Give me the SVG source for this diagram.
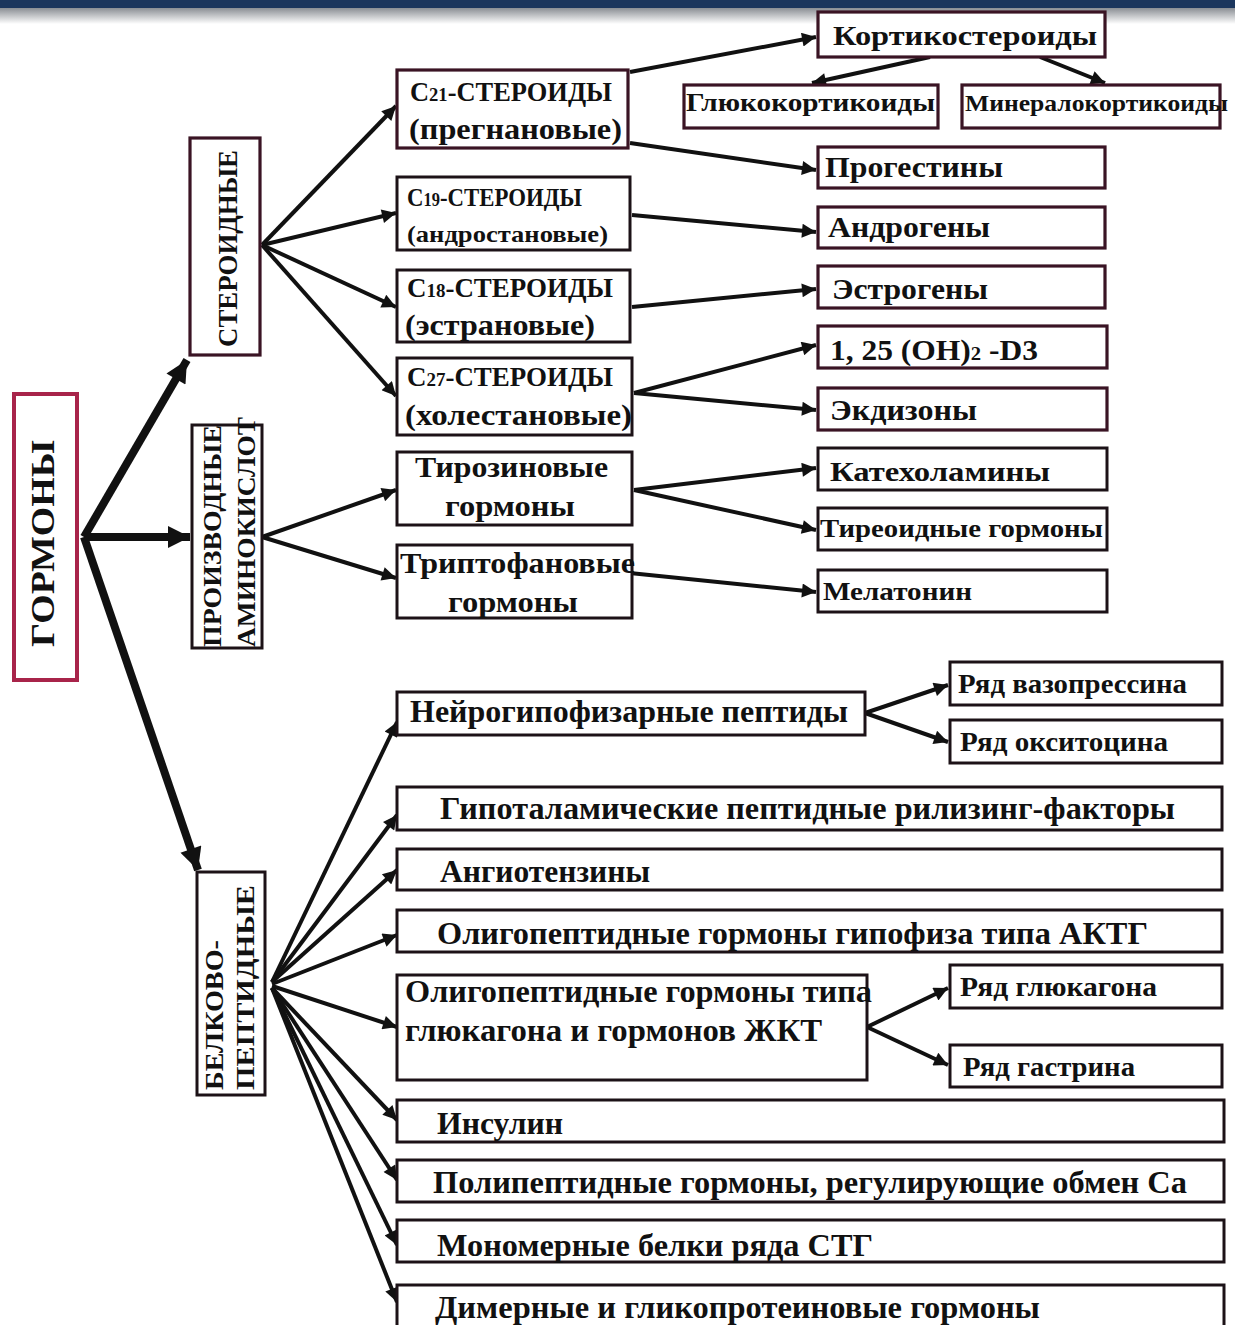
<svg xmlns="http://www.w3.org/2000/svg" width="1235" height="1325" viewBox="0 0 1235 1325">
<defs>
<linearGradient id="band" x1="0" y1="0" x2="0" y2="1">
<stop offset="0" stop-color="#8a8e94"/>
<stop offset="1" stop-color="#ffffff"/>
</linearGradient>
<marker id="ah" viewBox="0 0 10 10" refX="10" refY="5" markerWidth="20" markerHeight="14" markerUnits="userSpaceOnUse" orient="auto">
<path d="M0,0 L10,5 L0,10 z" fill="#111"/>
</marker>
<marker id="ahb" viewBox="0 0 10 10" refX="10" refY="5" markerWidth="28" markerHeight="22" markerUnits="userSpaceOnUse" orient="auto">
<path d="M0,0 L10,5 L0,10 z" fill="#111"/>
</marker>
<style>
.t{font-family:"Liberation Serif","Times New Roman",serif;font-weight:bold;fill:#111;}
.b{fill:#fff;stroke:#1c1217;stroke-width:3;}
.p{fill:#fff;stroke:#3a1424;stroke-width:3.2;}
.c{stroke:#111;stroke-width:4;fill:none;marker-end:url(#ah);}
.m{stroke:#111;stroke-width:8;fill:none;marker-end:url(#ahb);}
</style>
</defs>
<rect x="0" y="0" width="1235" height="1325" fill="#fff"/>
<rect x="0" y="8" width="1235" height="16" fill="url(#band)"/>
<rect x="0" y="0" width="1235" height="8" fill="#1b365d"/>

<g id="connectors">
<line class="m" x1="84" y1="537" x2="187" y2="360"/>
<line class="m" x1="84" y1="537" x2="190" y2="537"/>
<line class="m" x1="84" y1="537" x2="198" y2="870"/>
<line class="c" x1="262" y1="245" x2="396" y2="106"/>
<line class="c" x1="262" y1="245" x2="396" y2="213"/>
<line class="c" x1="262" y1="245" x2="396" y2="307"/>
<line class="c" x1="262" y1="245" x2="396" y2="396"/>
<line class="c" x1="262" y1="537" x2="396" y2="490"/>
<line class="c" x1="262" y1="537" x2="396" y2="578"/>
<line class="c" x1="272" y1="982" x2="397" y2="722"/>
<line class="c" x1="272" y1="982" x2="397" y2="815"/>
<line class="c" x1="272" y1="982" x2="397" y2="870"/>
<line class="c" x1="272" y1="984" x2="397" y2="935"/>
<line class="c" x1="272" y1="986" x2="397" y2="1027"/>
<line class="c" x1="272" y1="988" x2="397" y2="1120"/>
<line class="c" x1="272" y1="988" x2="397" y2="1180"/>
<line class="c" x1="272" y1="988" x2="397" y2="1245"/>
<line class="c" x1="272" y1="988" x2="397" y2="1302"/>
<line class="c" x1="630" y1="72" x2="816" y2="37"/>
<line class="c" x1="630" y1="143" x2="816" y2="170"/>
<line class="c" x1="930" y1="57" x2="812" y2="83"/>
<line class="c" x1="1040" y1="57" x2="1105" y2="83"/>
<line class="c" x1="632" y1="215" x2="816" y2="232"/>
<line class="c" x1="632" y1="307" x2="816" y2="289"/>
<line class="c" x1="634" y1="393" x2="816" y2="345"/>
<line class="c" x1="634" y1="393" x2="816" y2="410"/>
<line class="c" x1="634" y1="490" x2="816" y2="468"/>
<line class="c" x1="634" y1="490" x2="816" y2="530"/>
<line class="c" x1="620" y1="572" x2="816" y2="592"/>
<line class="c" x1="865" y1="713" x2="948" y2="685"/>
<line class="c" x1="865" y1="713" x2="948" y2="742"/>
<line class="c" x1="867" y1="1027" x2="948" y2="988"/>
<line class="c" x1="867" y1="1027" x2="948" y2="1065"/>
</g>

<g id="gormony">
<rect x="14" y="394" width="63" height="286" fill="#fff" stroke="#a8244a" stroke-width="4"/>
<text class="t" font-size="34" transform="translate(54,647) rotate(-90)" textLength="207" lengthAdjust="spacingAndGlyphs">ГОРМОНЫ</text>
</g>
<g id="steroidnye">
<rect class="p" x="190" y="138" width="70" height="217"/>
<text class="t" font-size="28" transform="translate(237,347) rotate(-90)" textLength="197" lengthAdjust="spacingAndGlyphs">СТЕРОИДНЫЕ</text>
</g>
<g id="aminokisloty">
<rect class="b" x="192" y="425" width="70" height="223"/>
<text class="t" font-size="25" transform="translate(221,647) rotate(-90)" textLength="222" lengthAdjust="spacingAndGlyphs">ПРОИЗВОДНЫЕ</text>
<text class="t" font-size="25" transform="translate(255,647) rotate(-90)" textLength="230" lengthAdjust="spacingAndGlyphs">АМИНОКИСЛОТ</text>
</g>
<g id="belkovo">
<rect class="b" x="197" y="872" width="68" height="223"/>
<text class="t" font-size="25" transform="translate(223,1090) rotate(-90)" textLength="150" lengthAdjust="spacingAndGlyphs">БЕЛКОВО-</text>
<text class="t" font-size="25" transform="translate(254,1090) rotate(-90)" textLength="205" lengthAdjust="spacingAndGlyphs">ПЕПТИДНЫЕ</text>
</g>

<g id="c21">
<rect class="p" x="397" y="70" width="231" height="78"/>
<text class="t" font-size="27" x="410" y="101" textLength="202" lengthAdjust="spacingAndGlyphs">С<tspan font-size="19">21</tspan>-СТЕРОИДЫ</text>
<text class="t" font-size="29" x="409" y="139" textLength="213" lengthAdjust="spacingAndGlyphs">(прегнановые)</text>
</g>
<g id="c19">
<rect class="b" x="397" y="177" width="233" height="73"/>
<text class="t" font-size="25" x="407" y="206" textLength="175" lengthAdjust="spacingAndGlyphs">С<tspan font-size="18">19</tspan>-СТЕРОИДЫ</text>
<text class="t" font-size="24" x="407" y="242" textLength="201" lengthAdjust="spacingAndGlyphs">(андростановые)</text>
</g>
<g id="c18">
<rect class="b" x="397" y="270" width="233" height="72"/>
<text class="t" font-size="27" x="407" y="297" textLength="206" lengthAdjust="spacingAndGlyphs">С<tspan font-size="19">18</tspan>-СТЕРОИДЫ</text>
<text class="t" font-size="29" x="405" y="335" textLength="190" lengthAdjust="spacingAndGlyphs">(эстрановые)</text>
</g>
<g id="c27">
<rect class="b" x="397" y="358" width="235" height="77"/>
<text class="t" font-size="27" x="407" y="386" textLength="206" lengthAdjust="spacingAndGlyphs">С<tspan font-size="19">27</tspan>-СТЕРОИДЫ</text>
<text class="t" font-size="29" x="405" y="425" textLength="227" lengthAdjust="spacingAndGlyphs">(холестановые)</text>
</g>

<g id="kortiko">
<rect class="p" x="818" y="12" width="287" height="45"/>
<text class="t" font-size="28" x="833" y="45" textLength="264" lengthAdjust="spacingAndGlyphs">Кортикостероиды</text>
</g>
<g id="gluko">
<rect class="p" x="684" y="85" width="254" height="43"/>
<text class="t" font-size="25" x="686" y="111" textLength="249" lengthAdjust="spacingAndGlyphs">Глюкокортикоиды</text>
</g>
<g id="mineralo">
<rect class="p" x="962" y="85" width="258" height="43"/>
<text class="t" font-size="23" x="965" y="111" textLength="263" lengthAdjust="spacingAndGlyphs">Минералокортикоиды</text>
</g>
<g id="progestiny">
<rect class="p" x="818" y="147" width="287" height="41"/>
<text class="t" font-size="29" x="825" y="177" textLength="178" lengthAdjust="spacingAndGlyphs">Прогестины</text>
</g>
<g id="androgeny">
<rect class="p" x="818" y="207" width="287" height="41"/>
<text class="t" font-size="29" x="828" y="237" textLength="162" lengthAdjust="spacingAndGlyphs">Андрогены</text>
</g>
<g id="estrogeny">
<rect class="p" x="818" y="266" width="287" height="42"/>
<text class="t" font-size="29" x="832" y="299" textLength="156" lengthAdjust="spacingAndGlyphs">Эстрогены</text>
</g>
<g id="d3">
<rect class="p" x="818" y="326" width="289" height="42"/>
<text class="t" font-size="29" x="830" y="360" textLength="208" lengthAdjust="spacingAndGlyphs">1, 25 (OH)<tspan font-size="19">2</tspan> -D3</text>
</g>
<g id="ekdizony">
<rect class="p" x="818" y="388" width="289" height="42"/>
<text class="t" font-size="29" x="830" y="420" textLength="147" lengthAdjust="spacingAndGlyphs">Экдизоны</text>
</g>

<g id="tirozin">
<rect class="b" x="397" y="452" width="235" height="73"/>
<text class="t" font-size="29" x="415" y="477" textLength="193" lengthAdjust="spacingAndGlyphs">Тирозиновые</text>
<text class="t" font-size="29" x="445" y="516" textLength="130" lengthAdjust="spacingAndGlyphs">гормоны</text>
</g>
<g id="triptofan">
<rect class="b" x="397" y="545" width="235" height="73"/>
<text class="t" font-size="29" x="400" y="573" textLength="235" lengthAdjust="spacingAndGlyphs">Триптофановые</text>
<text class="t" font-size="29" x="448" y="612" textLength="130" lengthAdjust="spacingAndGlyphs">гормоны</text>
</g>
<g id="katehol">
<rect class="b" x="818" y="448" width="289" height="42"/>
<text class="t" font-size="28" x="830" y="481" textLength="220" lengthAdjust="spacingAndGlyphs">Катехоламины</text>
</g>
<g id="tireoid">
<rect class="b" x="818" y="508" width="289" height="42"/>
<text class="t" font-size="25" x="820" y="537" textLength="283" lengthAdjust="spacingAndGlyphs">Тиреоидные гормоны</text>
</g>
<g id="melatonin">
<rect class="b" x="818" y="570" width="289" height="42"/>
<text class="t" font-size="26" x="823" y="600" textLength="149" lengthAdjust="spacingAndGlyphs">Мелатонин</text>
</g>

<g id="neiro">
<rect class="b" x="397" y="692" width="468" height="43"/>
<text class="t" font-size="31" x="410" y="722" textLength="438" lengthAdjust="spacingAndGlyphs">Нейрогипофизарные пептиды</text>
</g>
<g id="vazopressin">
<rect class="b" x="950" y="662" width="272" height="43"/>
<text class="t" font-size="27" x="958" y="693" textLength="229" lengthAdjust="spacingAndGlyphs">Ряд вазопрессина</text>
</g>
<g id="oksitocin">
<rect class="b" x="950" y="720" width="272" height="43"/>
<text class="t" font-size="27" x="960" y="751" textLength="208" lengthAdjust="spacingAndGlyphs">Ряд окситоцина</text>
</g>
<g id="gipotalam">
<rect class="b" x="397" y="787" width="825" height="43"/>
<text class="t" font-size="31" x="440" y="819" textLength="735" lengthAdjust="spacingAndGlyphs">Гипоталамические пептидные рилизинг-факторы</text>
</g>
<g id="angiotenziny">
<rect class="b" x="397" y="849" width="825" height="41"/>
<text class="t" font-size="31" x="440" y="882" textLength="210" lengthAdjust="spacingAndGlyphs">Ангиотензины</text>
</g>
<g id="aktg">
<rect class="b" x="397" y="910" width="825" height="42"/>
<text class="t" font-size="31" x="437" y="944" textLength="711" lengthAdjust="spacingAndGlyphs">Олигопептидные гормоны гипофиза типа АКТГ</text>
</g>
<g id="glukagon">
<rect class="b" x="397" y="975" width="470" height="105"/>
<text class="t" font-size="31" x="405" y="1002" textLength="467" lengthAdjust="spacingAndGlyphs">Олигопептидные гормоны типа</text>
<text class="t" font-size="31" x="405" y="1041" textLength="417" lengthAdjust="spacingAndGlyphs">глюкагона и гормонов ЖКТ</text>
</g>
<g id="rglukagon">
<rect class="b" x="950" y="965" width="272" height="43"/>
<text class="t" font-size="27" x="960" y="996" textLength="197" lengthAdjust="spacingAndGlyphs">Ряд глюкагона</text>
</g>
<g id="gastrin">
<rect class="b" x="950" y="1045" width="272" height="42"/>
<text class="t" font-size="27" x="963" y="1076" textLength="172" lengthAdjust="spacingAndGlyphs">Ряд гастрина</text>
</g>
<g id="insulin">
<rect class="b" x="397" y="1100" width="827" height="42"/>
<text class="t" font-size="31" x="437" y="1134" textLength="126" lengthAdjust="spacingAndGlyphs">Инсулин</text>
</g>
<g id="polipeptid">
<rect class="b" x="397" y="1160" width="827" height="42"/>
<text class="t" font-size="31" x="433" y="1193" textLength="754" lengthAdjust="spacingAndGlyphs">Полипептидные гормоны, регулирующие обмен Са</text>
</g>
<g id="monomer">
<rect class="b" x="397" y="1220" width="827" height="42"/>
<text class="t" font-size="31" x="437" y="1256" textLength="436" lengthAdjust="spacingAndGlyphs">Мономерные белки ряда СТГ</text>
</g>
<g id="dimer">
<rect class="b" x="397" y="1285" width="827" height="45"/>
<text class="t" font-size="31" x="435" y="1318" textLength="605" lengthAdjust="spacingAndGlyphs">Димерные и гликопротеиновые гормоны</text>
</g>
</svg>
